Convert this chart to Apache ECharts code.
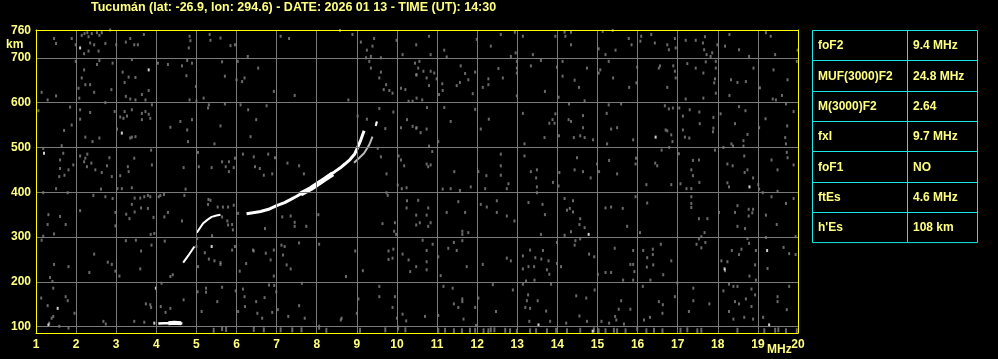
<!DOCTYPE html>
<html><head><meta charset="utf-8">
<script src="https://cdn.jsdelivr.net/npm/echarts@6/dist/echarts.min.js"></script>
<style>html,body{margin:0;padding:0;background:#000;}#c{width:998px;height:359px;}</style>
</head><body><div id="c"></div>
<script>
// ---- data ----
const titleText = 'Tucumán (lat: -26.9, lon: 294.6) - DATE: 2026 01 13 - TIME (UT): 14:30';
const xTicks = [1,2,3,4,5,6,7,8,9,10,11,12,13,14,15,16,17,18,19,20];
const yTicks = [100,200,300,400,500,600,700,760];
const gridFreqs = [2,3,4,5,6,7,8,9,10,11,12,13,14,15,16,17,18,19];
const gridHeights = [100,200,300,400,500,600,700];

const tableLabels = ['foF2','MUF(3000)F2','M(3000)F2','fxI','foF1','ftEs',"h'Es"];
const tableValues = ['9.4 MHz','24.8 MHz','2.64','9.7 MHz','NO','4.6 MHz','108 km'];

// Es trace
const esTrace = [[4.05,107],[4.2,108],[4.35,108],[4.5,108],[4.65,107]];
const esThick = [[4.3,108],[4.45,109],[4.62,108]];
// lower F (F1) trace
const fLow1 = [[4.67,243],[4.8,259],[4.95,279]];
const fLow2 = [[5.01,310],[5.1,322],[5.17,331],[5.28,339],[5.38,345],[5.5,348],[5.6,350]];
// F2 ordinary trace
const f2o = [[6.25,352],[6.45,355],[6.6,357],[6.8,362],[7.0,370],[7.2,377],[7.33,383],[7.5,391],[7.67,400],[7.85,408],[8.0,417],[8.2,429],[8.33,439],[8.45,446],[8.58,454],[8.7,463],[8.83,473],[8.95,486],[9.02,500],[9.1,517],[9.18,537]];
const f2oThick = [[7.6,396],[7.85,408],[8.0,417],[8.2,429],[8.4,441]];
// F2 extraordinary trace
const f2x = [[8.93,466],[9.05,476],[9.18,487],[9.31,506],[9.39,524]];
const f2xTop = [[9.47,548],[9.5,558]];

// scattered noise (gray)
const noise = [
[1.45,743],[1.50,732],[1.89,743],[1.99,729],[2.14,750],[2.21,754],[2.28,756],[2.31,747],[2.35,733],[2.39,754],[2.45,729],[2.52,756],[2.58,750],[2.64,756],[2.73,732],[2.85,762],[2.20,709],[2.31,715],[2.56,715],[3.0,729],[3.24,735],[3.35,743],[3.45,729],[3.54,729],[3.69,752],[4.83,748],[4.85,738],[4.81,722],[5.33,752],[5.35,739],[5.6,744],[5.96,729],[5.85,727],[6.28,703],[7.1,748],[7.31,743],[8.58,761],[8.89,752],[9.1,735],[9.43,743],[9.39,726],[9.25,717],[9.35,703],[9.6,700],[9.99,739],[10.14,707],[10.48,729],
[1.99,692],[2.2,673],[2.52,685],[2.58,694],[2.91,688],[3.39,696],[4.04,688],[4.29,685],[4.64,682],[4.77,694],[4.89,688],[4.75,660],[5.64,691],[6.03,692],[5.71,659],[6.0,651],[6.14,647],[6.2,655],[6.54,677],[6.93,625],[7.45,616],[3.16,668],[3.21,645],[3.31,657],[3.48,656],[2.88,629],[2.35,640],[2.23,640],[2.14,655],[2.06,632],[2.45,623],[3.24,614],[3.35,608],[3.48,606],[3.64,618],[3.73,606],[3.81,627],[1.14,623],[1.29,606],[1.5,615],[2.08,610],[4.99,636],[5.0,603],[4.83,606],[5.18,610],[8.79,606],[9.35,677],[9.6,668],[9.56,655],[9.73,640],[9.81,627],[9.89,621],[10.1,632],[10.21,629],[9.67,629],[10.45,688],[10.48,662],[10.29,603],[10.39,603],[9.23,700],[9.31,692],
[1.06,582],[1.85,590],[2.1,584],[2.35,578],[2.73,600],[2.96,580],[3.21,580],[3.18,565],[3.1,568],[3.27,570],[3.39,584],[3.64,576],[3.73,580],[3.81,574],[3.89,595],[3.85,565],[3.64,562],[3.02,541],[3.39,523],[3.48,524],[3.35,521],[1.89,550],[1.7,538],[2.23,523],[2.41,513],[2.58,521],[2.1,563],[4.35,545],[4.6,558],[4.77,539],[4.89,562],[4.79,513],[5.31,595],[5.29,588],[5.6,548],[5.45,508],[5.71,597],[6.1,595],[6.29,584],[6.49,562],[6.35,524],[6.75,593],[9.02,570],[9.25,563],[9.49,554],[9.56,587],[9.71,542],[9.91,579],[10.1,544],[10.25,562],[10.39,547],[10.48,543],[1.18,498],
[1.64,504],[1.68,487],[1.6,472],[1.6,453],[1.58,435],[1.71,438],[1.81,450],[1.93,461],[2.1,481],[2.23,476],[2.28,485],[2.2,468],[2.38,465],[2.27,457],[2.48,450],[2.64,444],[2.77,459],[2.83,477],[2.89,435],[3.1,437],[3.29,457],[3.31,446],[3.45,476],[3.87,494],[3.89,461],[4.68,455],[5.04,489],[5.06,457],[5.38,455],[5.64,468],[5.73,457],[5.81,468],[5.81,446],[5.96,476],[5.93,455],[6.16,485],[6.43,479],[6.46,457],[6.58,453],[6.68,438],[6.79,485],[6.89,441],[6.96,477],[7.27,465],[7.56,459],[7.68,441],[9.52,498],[9.6,479],[9.74,441],[10.04,481],[10.18,459],[10.1,472],
[10.8,748],[10.84,707],[11.18,717],[11.24,702],[11.99,741],[12.34,726],[12.59,752],[12.84,703],[12.96,711],[12.94,757],[13.14,748],[13.39,707],[13.95,748],[14.18,757],[14.2,748],[14.34,757],[14.34,729],[15.13,759],[15.38,761],[15.03,720],[15.2,707],[15.45,717],[15.78,743],[15.85,729],[16.09,748],[16.07,737],[16.34,752],[16.43,733],[16.74,729],[16.78,718],[16.93,743],[16.95,722],[17.2,739],[17.45,739],[17.63,733],[17.68,747],[17.66,718],[17.72,707],[17.82,703],[17.86,711],[17.99,729],[18.18,726],[18.29,752],[18.53,718],[18.78,703],[19.2,756],[19.32,748],[19.43,707],[19.99,717],
[10.56,692],[10.53,677],[10.66,670],[10.49,662],[10.74,655],[10.84,670],[10.93,666],[10.8,638],[10.99,653],[11.13,642],[11.14,627],[11.05,618],[10.63,606],[10.49,610],[11.59,682],[11.7,665],[11.78,651],[11.95,668],[11.57,645],[11.49,638],[11.89,620],[12.14,634],[12.28,653],[12.28,640],[12.53,676],[12.64,655],[12.99,692],[12.99,677],[12.99,666],[12.99,615],[13.34,682],[13.59,694],[13.69,625],[13.99,679],[14.13,692],[14.13,659],[14.43,650],[14.54,634],[14.74,677],[15.03,666],[15.07,673],[15.28,692],[15.39,655],[15.79,634],[15.99,679],[15.97,644],[16.56,682],[16.53,677],[16.74,634],[16.89,682],[16.93,670],[16.95,655],[17.24,687],[17.45,677],[17.64,666],[17.7,691],[17.95,677],[17.93,653],[17.91,644],[17.95,621],[18.33,651],[18.49,645],[18.7,647],[18.29,616],[18.89,677],[19.05,633],[19.39,673],[19.74,651],[19.6,616],[19.45,606],[19.97,692],[17.95,692],[17.2,608],[17.64,610],[14.03,612],[14.68,604],
[10.75,589],[11.18,589],[11.34,558],[11.95,585],[12.09,541],[12.29,563],[13.14,576],[13.88,562],[13.95,575],[13.93,554],[13.8,554],[14.28,562],[14.34,558],[14.64,571],[14.64,544],[14.57,526],[14.68,522],[14.41,522],[14.89,517],[14.04,526],[13.68,522],[13.18,508],[14.29,597],[15.59,597],[15.28,595],[15.23,576],[15.34,541],[15.49,544],[15.89,517],[15.24,508],[16.68,593],[16.7,539],[16.74,537],[16.84,528],[16.87,513],[16.78,586],[16.88,588],[17.04,588],[17.13,570],[17.13,539],[17.18,523],[17.29,521],[17.3,584],[17.54,579],[17.55,553],[17.89,567],[17.89,543],[17.88,535],[18.07,575],[18.34,508],[18.38,503],[18.43,553],[18.53,591],[18.69,582],[18.74,529],[18.64,515],[18.64,503],[19.03,544],[19.19,564],[19.37,608],[19.7,597],[19.89,580],[19.73,548],[19.68,522],[19.7,508],[10.59,533],[10.74,541],[10.8,503],[11.03,513],[10.49,544],
[10.88,491],[10.74,463],[10.84,461],[10.78,457],[11.43,446],[12.03,446],[12.23,437],[12.59,485],[12.59,459],[12.59,438],[13.18,481],[13.34,446],[13.49,450],[13.47,432],[14.05,444],[14.49,477],[14.43,450],[14.64,446],[14.83,432],[14.99,463],[15.04,446],[15.29,471],[15.49,441],[15.96,476],[15.95,463],[16.44,465],[16.49,459],[16.6,494],[16.79,500],[17.03,486],[17.38,471],[17.53,472],[17.34,450],[17.38,437],[17.93,494],[18.14,500],[18.24,463],[18.37,459],[18.66,481],[18.74,450],[18.67,444],[18.88,432],[19.34,472],[19.49,450],[19.72,489],[19.74,477],[19.89,461],
[1.18,399],[1.5,408],[1.79,399],[2.43,393],[2.62,407],[2.73,390],[2.91,386],[3.03,408],[3.14,408],[3.39,410],[3.46,387],[3.6,387],[3.7,390],[3.79,393],[3.85,390],[4.06,390],[4.1,393],[4.19,395],[4.7,393],[4.73,407],[5.3,384],[5.35,382],[5.29,373],[5.53,367],[5.66,367],[5.79,367],[5.93,371],[6.04,353],[1.31,350],[1.6,346],[1.74,328],[1.29,328],[1.45,307],[2.1,359],[2.98,355],[2.98,325],[3.25,351],[3.33,341],[3.39,373],[3.46,356],[3.62,365],[3.79,364],[3.93,344],[4.2,345],[4.29,355],[4.64,336],[5.39,303],[5.02,297],[5.64,345],[5.77,336],[5.79,327],[5.89,328],[5.91,316],[6.71,319],[7.14,345],[7.35,347],[7.45,333],[7.45,324],[7.74,324],[8.04,350],[9.64,330],[9.95,332],[9.93,313],[9.98,306],[10.25,381],[10.24,365],[10.48,349],[10.48,327],[9.74,399],[9.77,393],[10.02,416],[10.12,408],[10.24,410],
[1.14,293],[1.18,302],[2.45,262],[2.79,244],[2.89,239],[2.33,221],[1.81,234],[1.45,239],[1.35,210],[1.41,201],[1.43,186],[1.13,164],[1.29,147],[1.74,167],[1.79,158],[1.96,130],[1.43,123],[1.39,119],[1.33,108],[1.58,101],[1.81,97],[2.98,224],[3.08,213],[3.24,292],[3.49,293],[3.62,269],[3.6,229],[3.86,306],[3.95,308],[3.88,282],[4.21,291],[4.13,197],[3.74,151],[3.85,149],[3.87,143],[4.11,145],[4.23,132],[4.35,141],[3.45,112],[3.7,110],[4.41,216],[4.35,212],[5.0,279],[5.04,234],[5.21,265],[5.31,251],[5.45,247],[5.6,243],[5.6,239],[5.89,271],[5.96,279],[6.08,224],[6.24,241],[6.41,271],[6.43,269],[6.73,264],[6.85,249],[6.93,271],[7.12,282],[7.16,260],[7.2,279],[7.25,238],[6.93,213],[7.56,287],[7.35,229],[7.63,197],[8.06,284],[8.73,212],[8.96,269],[9.15,225],[9.56,190],[9.79,269],[9.79,250],[9.91,273],[9.89,253],[10.14,262],[10.29,249],[10.33,223],[10.48,234],[5.03,178],[5.24,186],[5.24,177],[5.52,156],[5.64,188],[5.98,180],[6.16,184],[6.2,167],[6.49,156],[6.7,165],[6.21,145],[6.04,134],[6.52,130],[6.64,119],[6.89,132],[6.81,193],[6.94,192],[6.99,178],[7.03,138],[7.56,147],[7.29,123],[7.7,119],[8.62,119],[8.6,115],[9.0,130],[9.56,167],[9.95,167],[9.89,143],[10.0,119],[10.14,128],[10.23,113],[9.04,162],[4.68,160],[5.13,134],[2.68,112],[2.74,106],
[11.14,407],[11.34,408],[11.57,404],[11.84,412],[12.2,408],[12.74,408],[12.78,419],[13.49,412],[13.49,399],[13.89,422],[14.03,414],[16.22,417],[16.84,417],[17.07,419],[17.22,408],[17.34,408],[17.54,422],[18.24,421],[18.28,412],[19.01,417],[19.03,407],[19.49,402],[19.12,399],
[10.53,382],[10.78,365],[10.74,349],[10.57,332],[10.78,324],[10.84,332],[11.24,355],[11.53,379],[11.7,355],[11.63,313],[11.63,306],[11.78,310],[12.09,373],[12.24,367],[12.49,381],[12.49,355],[12.74,347],[12.93,336],[13.28,377],[13.63,373],[13.69,350],[13.59,306],[14.18,386],[14.24,360],[14.31,364],[14.39,356],[14.39,381],[14.57,341],[14.55,328],[14.68,321],[14.34,312],[14.18,304],[15.2,365],[15.34,367],[15.63,364],[15.74,324],[15.95,390],[16.06,310],[16.24,376],[17.34,390],[17.34,375],[17.34,366],[17.53,341],[17.74,341],[17.67,310],[17.59,301],[18.03,355],[18.49,370],[18.43,355],[18.77,362],[18.88,362],[18.86,354],[18.77,347],[18.49,324],[18.68,319],[19.2,349],[19.34,390],[19.47,328],[19.7,375],[19.89,386],
[10.64,293],[10.74,270],[10.74,245],[10.74,227],[10.89,284],[11.03,256],[11.09,214],[11.28,275],[11.42,288],[11.49,270],[11.63,292],[11.74,234],[12.14,239],[12.74,253],[12.84,247],[13.14,258],[13.32,271],[13.45,254],[13.64,270],[13.6,251],[13.78,247],[13.28,234],[13.14,229],[13.42,234],[13.22,202],[13.43,204],[13.74,227],[13.8,217],[13.99,241],[14.09,234],[13.99,288],[14.45,292],[14.43,282],[14.57,296],[14.79,262],[14.92,256],[15.01,217],[15.2,221],[15.34,221],[15.43,275],[15.64,204],[15.89,270],[15.89,239],[15.82,239],[15.92,223],[15.89,204],[16.14,270],[16.24,254],[16.23,233],[16.38,273],[16.38,261],[16.39,238],[16.32,204],[16.58,284],[16.64,216],[16.84,247],[16.99,198],[17.47,284],[17.53,296],[17.59,276],[17.69,288],[18.09,247],[18.18,225],[18.24,245],[18.35,270],[18.53,261],[18.59,273],[18.78,286],[18.74,297],[18.79,213],[18.95,270],[18.93,238],[18.95,204],[19.2,299],[19.24,230],[19.64,277],[19.78,263],[19.94,261],[19.94,301],
[11.16,190],[11.39,186],[11.42,151],[11.53,143],[11.63,162],[11.63,156],[11.95,143],[12.03,164],[12.39,194],[12.47,134],[12.89,182],[13.14,195],[13.27,171],[13.24,158],[13.32,141],[13.2,143],[13.51,158],[13.72,135],[13.84,195],[14.47,169],[14.72,164],[14.93,182],[15.59,158],[15.53,139],[15.82,139],[15.44,123],[16.13,190],[16.53,156],[16.63,149],[16.62,130],[16.93,167],[17.39,186],[17.39,158],[17.28,134],[17.79,151],[18.14,180],[18.28,195],[18.39,190],[18.49,190],[18.43,156],[18.53,151],[18.7,162],[18.84,145],[18.84,184],[18.93,171],[18.28,134],[18.39,117],[18.66,121],[18.88,117],[19.13,121],[19.49,167],[19.49,156],[19.72,138],[19.78,190],[10.7,123],[11.03,125],[11.66,117],[11.97,103],[13.3,112],[13.82,112],[14.22,108],[14.55,124],[14.74,112],[15.1,112],[15.29,108],[15.47,115],[15.66,106],[16.16,115],[16.31,121]
];
// interference band near the bottom edge (gray short bars)
const bottomBand = [[5.43,92],[5.64,96],[5.74,94],[6.43,94],[6.68,93],[7.1,93],[7.39,93],[7.62,93],[8.06,99],[8.24,92],[9.08,92],[9.71,93],[10.03,97],[10.21,93],
[11.03,92],[11.2,92],[11.42,91],[11.62,91],[11.82,92],[11.95,92],[12.16,91],[12.28,91],[12.34,93],[12.43,93],[12.7,92],[12.82,91],[12.99,90],[13.32,91],[13.47,91],[13.74,91],[13.97,92],[14.24,91],[14.57,92],[14.91,93],[15.03,91],[15.2,91],[15.41,92],[15.49,91],[15.7,91],[15.99,96],[16.22,91],[16.41,92],[16.62,91],[17.07,92],[17.24,93],[17.49,91],[17.59,92],[18.49,92],[19.16,91],[19.43,92],[19.51,93],[19.7,91],[19.97,91]];
// isolated bright echoes (white)
const whiteDots = [[2.10,722],[3.81,673],[3.14,532],[1.2,487],[1.54,141],[1.31,104],[3.99,186],[5.38,279],[14.78,306],[18.79,412],[19.23,270],[18.17,229],[13.53,104],[19.28,104],[14.88,90],[3.95,108],[16.45,523]];

// ---- chart ----
const YEL = '#ffff80', GRID = '#7a7a7a', NOISE = '#858585', BORDER = '#ffff00', CYAN = '#19e6e6';
const FONT = '"Liberation Sans", Arial, sans-serif';
const chart = echarts.init(document.getElementById('c'), null, {renderer: 'canvas'});

const markData = gridFreqs.map(v => ({xAxis: v})).concat(gridHeights.map(v => ({yAxis: v})));

// table graphic (layout only)
const tX = 812, tY = 30, c1 = 95, c2 = 70, rh = 30.3;
const tableChildren = [];
tableChildren.push({type:'rect', shape:{x:tX+0.5, y:tY+0.5, width:c1+c2, height:rh*tableLabels.length}, style:{fill:'none', stroke:CYAN, lineWidth:1}});
tableChildren.push({type:'line', shape:{x1:tX+c1+0.5, y1:tY, x2:tX+c1+0.5, y2:tY+rh*tableLabels.length}, style:{stroke:CYAN, lineWidth:1}});
tableLabels.forEach((lab, i) => {
  if (i > 0) tableChildren.push({type:'line', shape:{x1:tX, y1:Math.round(tY+rh*i)+0.5, x2:tX+c1+c2, y2:Math.round(tY+rh*i)+0.5}, style:{stroke:CYAN, lineWidth:1}});
  tableChildren.push({type:'text', x:tX+6, y:tY+rh*i+rh/2+1, style:{text:lab, fill:YEL, font:'bold 12px '+FONT, textVerticalAlign:'middle'}});
  tableChildren.push({type:'text', x:tX+c1+6, y:tY+rh*i+rh/2+1, style:{text:tableValues[i], fill:YEL, font:'bold 12px '+FONT, textVerticalAlign:'middle'}});
});

const white = '#ffffff';
const lineS = (data, w, color) => ({type:'line', data, symbol:'none', silent:true, z:4, lineStyle:{color: color||white, width:w}, animation:false});

chart.setOption({
  backgroundColor: '#000',
  animation: false,
  grid: {left:36, top:30, right:200, bottom:26, show:false},
  xAxis: [{
    type:'value', min:1, max:20, interval:1, position:'bottom', z:6,
    axisLine:{show:true, onZero:false, lineStyle:{color:BORDER, width:1}},
    axisTick:{show:false}, splitLine:{show:false},
    axisLabel:{color:YEL, fontWeight:'bold', fontSize:12, fontFamily:FONT, margin:6}
  },{
    type:'value', min:1, max:20, position:'top', z:6,
    axisLine:{show:true, onZero:false, lineStyle:{color:BORDER, width:1}},
    axisTick:{show:false}, axisLabel:{show:false}, splitLine:{show:false}
  }],
  yAxis: [{
    type:'value', min:86, max:762, position:'left', z:6,
    axisLine:{show:true, onZero:false, lineStyle:{color:BORDER, width:1}},
    axisTick:{show:false}, splitLine:{show:false},
    axisLabel:{color:YEL, fontWeight:'bold', fontSize:12, fontFamily:FONT, margin:5, customValues: yTicks}
  },{
    type:'value', min:86, max:762, position:'right', z:6,
    axisLine:{show:true, onZero:false, lineStyle:{color:BORDER, width:1}},
    axisTick:{show:false}, axisLabel:{show:false}, splitLine:{show:false}
  }],
  graphic: [
    {type:'text', left:91, top:1, style:{text:titleText, fill:YEL, font:'bold 12.5px '+FONT}},
    {type:'text', left:6, top:39, style:{text:'km', fill:YEL, font:'bold 12px '+FONT}},
    {type:'text', left:767, top:344, style:{text:'MHz', fill:YEL, font:'bold 12px '+FONT}},
    {type:'group', children: tableChildren}
  ],
  series: [
    {type:'line', data:[], z:1, silent:true,
     markLine:{silent:true, symbol:'none', label:{show:false}, animation:false,
       lineStyle:{color:GRID, type:'solid', width:1}, data: markData}},
    {type:'scatter', data:noise, symbol:'rect', symbolSize:[2,3], itemStyle:{color:NOISE}, z:2, silent:true},
    {type:'scatter', data:bottomBand, symbol:'rect', symbolSize:[2,5], itemStyle:{color:NOISE}, z:2, silent:true},
    {type:'scatter', data:whiteDots, symbol:'rect', symbolSize:[2,3], itemStyle:{color:white}, z:3, silent:true},
    lineS(esTrace, 2.5),
    lineS(esThick, 4),
    lineS(fLow1, 2),
    lineS(fLow2, 2),
    lineS(f2o, 3),
    lineS(f2oThick, 5),
    lineS(f2x, 2, '#bbbbbb'),
    lineS(f2xTop, 2)
  ]
});
</script></body></html>
